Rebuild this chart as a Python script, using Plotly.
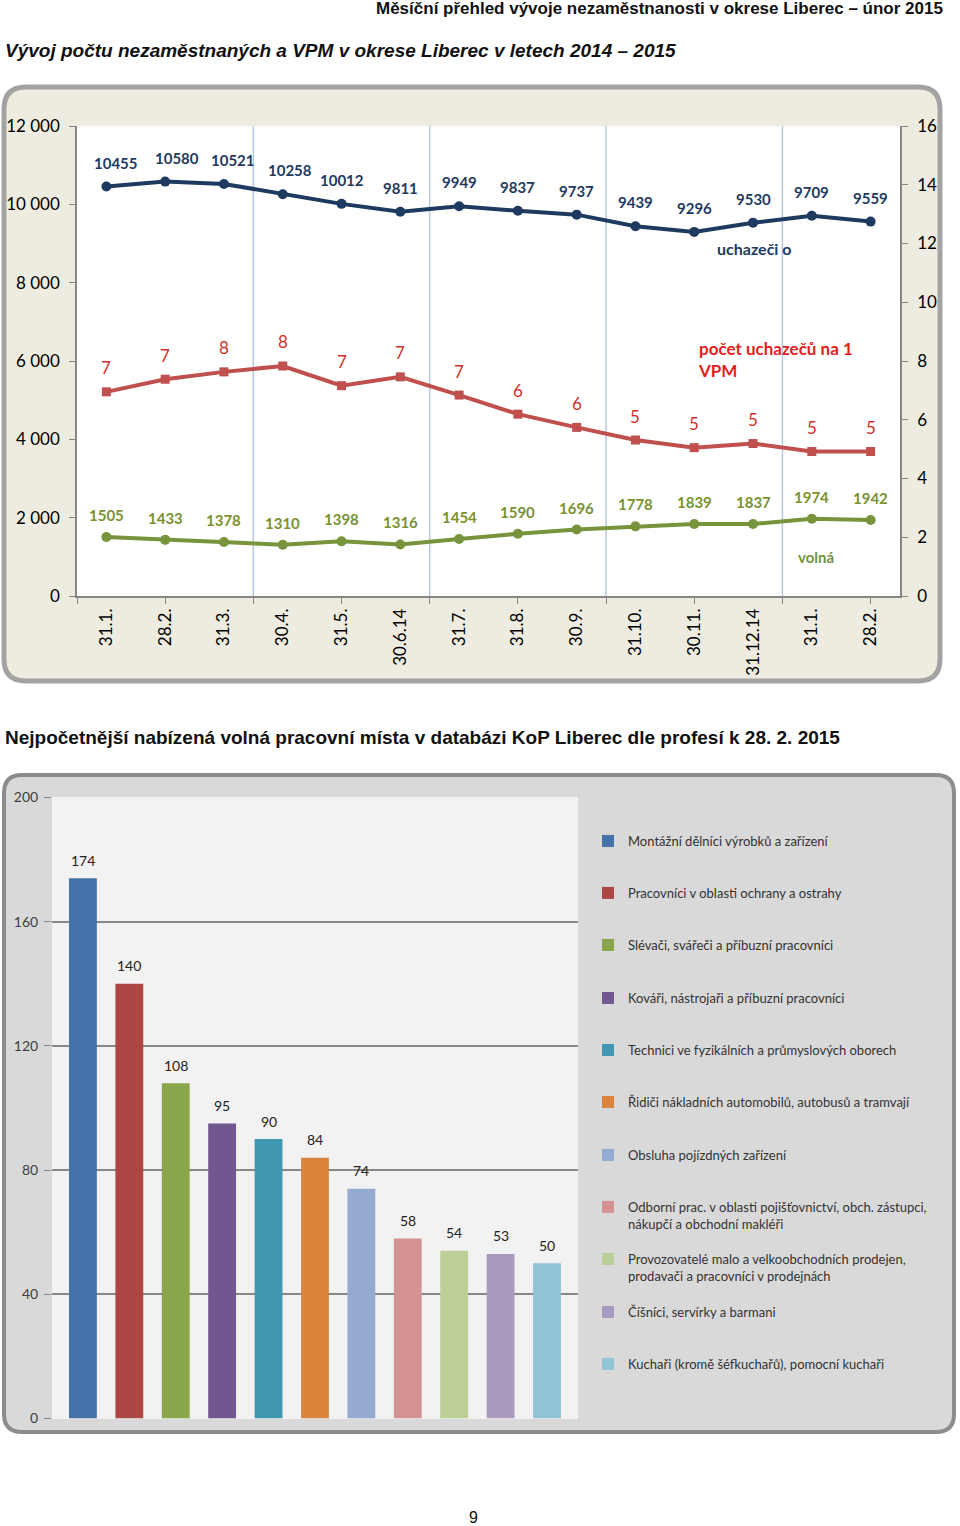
import plotly.graph_objects as go

W, H = 960, 1526

# ---------------- data: top chart ----------------
months = ["31.1.", "28.2.", "31.3.", "30.4.", "31.5.", "30.6.14", "31.7.",
          "31.8.", "30.9.", "31.10.", "30.11.", "31.12.14", "31.1.", "28.2."]
uchazeci = [10455, 10580, 10521, 10258, 10012, 9811, 9949, 9837, 9737, 9439, 9296, 9530, 9709, 9559]
volna = [1505, 1433, 1378, 1310, 1398, 1316, 1454, 1590, 1696, 1778, 1839, 1837, 1974, 1942]
pocet_na_vpm = [6.95, 7.38, 7.63, 7.83, 7.16, 7.46, 6.84, 6.19, 5.74, 5.31, 5.05, 5.19, 4.92, 4.92]
pocet_labels = ["7", "7", "8", "8", "7", "7", "7", "6", "6", "5", "5", "5", "5", "5"]
quarter_bounds = [2.5, 5.5, 8.5, 11.5]
left_ticks = [0, 2000, 4000, 6000, 8000, 10000, 12000]
right_ticks = [0, 2, 4, 6, 8, 10, 12, 14, 16]

# ---------------- data: bottom chart ----------------
professions = [
    "Montážní dělníci výrobků a zařízení",
    "Pracovníci v oblasti ochrany a ostrahy",
    "Slévači, svářeči a příbuzní pracovníci",
    "Kováři, nástrojaři a příbuzní pracovníci",
    "Technici ve fyzikálních a průmyslových oborech",
    "Řidiči nákladních automobilů, autobusů a tramvají",
    "Obsluha pojízdných zařízení",
    "Odborní prac. v oblasti pojišťovnictví, obch. zástupci,<br>nákupčí a obchodní makléři",
    "Provozovatelé malo a velkoobchodních prodejen,<br>prodavači a pracovníci v prodejnách",
    "Číšníci, servírky a barmani",
    "Kuchaři (kromě šéfkuchařů), pomocní kuchaři",
]
vpm_counts = [174, 140, 108, 95, 90, 84, 74, 58, 54, 53, 50]
bar_colors = ["#4371A8", "#AC4744", "#8AA54B", "#71578F", "#4298B0", "#DD843C",
              "#94AAD1", "#D49293", "#BBCF97", "#A99BBF", "#93C4D6"]

# layout helpers (pixel positions of legend rows and label nudges)
legend_centers = [841, 893, 945, 998, 1050, 1102, 1155, 1207, 1259, 1312, 1364]
blue_label_nudge = [10, 12, 9, 7, 0, 0, 0, 0, 0, 0, 0, 0, 0, 0]


def px(x):
    return x / W


def py(y):
    return 1 - y / H


def rrect(x0, y0, x1, y1, r):
    pts = []
    pts.append(f"M {px(x0 + r)} {py(y0)}")
    pts.append(f"L {px(x1 - r)} {py(y0)}")
    pts.append(f"Q {px(x1)} {py(y0)} {px(x1)} {py(y0 + r)}")
    pts.append(f"L {px(x1)} {py(y1 - r)}")
    pts.append(f"Q {px(x1)} {py(y1)} {px(x1 - r)} {py(y1)}")
    pts.append(f"L {px(x0 + r)} {py(y1)}")
    pts.append(f"Q {px(x0)} {py(y1)} {px(x0)} {py(y1 - r)}")
    pts.append(f"L {px(x0)} {py(y0 + r)}")
    pts.append(f"Q {px(x0)} {py(y0)} {px(x0 + r)} {py(y0)}")
    pts.append("Z")
    return " ".join(pts)


idx = list(range(len(months)))
NAVY = "#1F3A60"
RED = "#C0504D"
GREEN = "#77933C"
FONT = "Lato, 'Open Sans', sans-serif"
NARROW = "'Liberation Sans Narrow', 'Arial Narrow', 'Liberation Sans', Arial, sans-serif"
ARIAL = "'Liberation Sans', Arial, sans-serif"

fig = go.Figure()

# top chart traces
fig.add_trace(go.Scatter(x=idx, y=uchazeci, mode="lines+markers", name="uchazeči o",
                         line=dict(color=NAVY, width=4), marker=dict(size=10, color=NAVY),
                         xaxis="x", yaxis="y", showlegend=False))
fig.add_trace(go.Scatter(x=idx, y=volna, mode="lines+markers", name="volná",
                         line=dict(color=GREEN, width=4), marker=dict(size=10, color=GREEN),
                         xaxis="x", yaxis="y", showlegend=False))
fig.add_trace(go.Scatter(x=idx, y=pocet_na_vpm, mode="lines+markers", name="počet uchazečů na 1 VPM",
                         line=dict(color=RED, width=4),
                         marker=dict(size=9, color=RED, symbol="square"),
                         xaxis="x", yaxis="y2", showlegend=False))

annotations = []
for i in idx:
    annotations.append(dict(x=i, y=uchazeci[i], xref="x", yref="y", yshift=24,
                            xshift=blue_label_nudge[i],
                            text=f"<b>{uchazeci[i]}</b>", showarrow=False,
                            font=dict(family=FONT, size=15, color=NAVY)))
    annotations.append(dict(x=i, y=volna[i], xref="x", yref="y", yshift=22,
                            text=f"<b>{volna[i]}</b>", showarrow=False,
                            font=dict(family=FONT, size=15, color="#7A9230")))
    annotations.append(dict(x=i, y=pocet_na_vpm[i], xref="x", yref="y2", yshift=24,
                            text=pocet_labels[i], showarrow=False,
                            font=dict(family=FONT, size=17, color="#D02F2B")))

# bottom chart traces
for i, (name, val, col) in enumerate(zip(professions, vpm_counts, bar_colors)):
    lg = "legend" if i == 0 else f"legend{i + 1}"
    fig.add_trace(go.Bar(x=[i], y=[val], name=name, marker=dict(color=col, line=dict(width=0)),
                         width=0.6, xaxis="x2", yaxis="y3", legend=lg, showlegend=True))
    annotations.append(dict(x=i, y=val, xref="x2", yref="y3", yshift=18, text=str(val),
                            showarrow=False, font=dict(family=FONT, size=14, color="#222222")))

# free texts
annotations += [
    dict(x=px(945), y=py(9), xref="paper", yref="paper", xanchor="right", yanchor="middle",
         text="<b>Měsíční přehled vývoje nezaměstnanosti v okrese Liberec – únor 2015</b>",
         showarrow=False, font=dict(family=NARROW, size=17, color="#111111")),
    dict(x=px(3), y=py(51), xref="paper", yref="paper", xanchor="left", yanchor="middle",
         text="<b><i>Vývoj počtu nezaměstnaných a VPM v okrese Liberec v letech 2014 – 2015</i></b>",
         showarrow=False, font=dict(family=NARROW, size=19, color="#111111")),
    dict(x=px(3), y=py(738), xref="paper", yref="paper", xanchor="left", yanchor="middle",
         text="<b>Nejpočetnější nabízená volná pracovní místa v databázi KoP Liberec dle profesí k 28. 2. 2015</b>",
         showarrow=False, font=dict(family=ARIAL, size=19, color="#111111")),
    dict(x=px(473), y=py(1517), xref="paper", yref="paper", xanchor="center", yanchor="middle",
         text="9", showarrow=False, font=dict(family=ARIAL, size=16, color="#111111")),
    dict(x=px(754), y=py(249), xref="paper", yref="paper", xanchor="center", yanchor="middle",
         text="<b>uchazeči o</b>", showarrow=False, font=dict(family=FONT, size=16, color=NAVY)),
    dict(x=px(696), y=py(336), xref="paper", yref="paper", xanchor="left", yanchor="top",
         align="left", text="<b>počet uchazečů na 1<br>VPM</b>", showarrow=False,
         font=dict(family=FONT, size=17, color="#E0221E")),
    dict(x=px(816), y=py(557), xref="paper", yref="paper", xanchor="center", yanchor="middle",
         text="<b>volná</b>", showarrow=False, font=dict(family=FONT, size=15, color=GREEN)),
]

shapes = [
    dict(type="path", path=rrect(4, 87, 940, 681, 22), xref="paper", yref="paper",
         fillcolor="#EEECE1", line=dict(color="#A3A3A3", width=5), layer="below"),
    dict(type="rect", x0=px(77), x1=px(900), y0=py(596), y1=py(126), xref="paper", yref="paper",
         fillcolor="#FFFFFF", line=dict(width=0), layer="below"),
    dict(type="path", path=rrect(4, 775, 954, 1432, 18), xref="paper", yref="paper",
         fillcolor="#D9D9D9", line=dict(color="#8C8C8C", width=4), layer="below"),
    dict(type="rect", x0=px(52), x1=px(578), y0=py(1419), y1=py(797), xref="paper", yref="paper",
         fillcolor="#F2F2F2", line=dict(width=0), layer="below"),
]
for b in quarter_bounds:
    shapes.append(dict(type="line", x0=b, x1=b, xref="x", y0=0, y1=1, yref="y domain",
                       line=dict(color="#B8C8E0", width=1.5), layer="below"))

layout = dict(
    width=W, height=H, margin=dict(l=0, r=0, t=0, b=0, pad=0, autoexpand=False),
    paper_bgcolor="#FFFFFF", plot_bgcolor="rgba(0,0,0,0)",
    separators=", ",
    barmode="overlay",
    xaxis=dict(domain=[px(77), px(900)], range=[-0.5, 13.5], anchor="y", automargin=False,
               tickmode="array", tickvals=idx, ticktext=months, tickangle=-90,
               ticks="", showgrid=False, zeroline=False, showline=True,
               linecolor="#868686", linewidth=1.5, ticklabelstandoff=4,
               tickfont=dict(family=FONT, size=17, color="#000000"),
               minor=dict(tickmode="linear", tick0=1, dtick=1.5, ticks="outside", ticklen=6,
                          tickcolor="#868686", showgrid=False)),
    yaxis=dict(domain=[py(596), py(126)], range=[0, 12000], anchor="x", automargin=False,
               tickmode="array", tickvals=left_ticks, tickformat=",d",
               ticks="outside", ticklen=6, tickcolor="#868686", ticklabelstandoff=6,
               showgrid=False, zeroline=False, showline=True, linecolor="#868686", linewidth=1.5,
               tickfont=dict(family=FONT, size=17, color="#000000")),
    yaxis2=dict(overlaying="y", side="right", range=[0, 16], anchor="x", automargin=False,
                tickmode="array", tickvals=right_ticks, ticklabelstandoff=6,
                ticks="outside", ticklen=6, tickcolor="#868686",
                showgrid=False, zeroline=False, showline=True, linecolor="#868686", linewidth=1.5,
                tickfont=dict(family=FONT, size=17, color="#000000")),
    xaxis2=dict(domain=[px(52), px(578)], range=[-0.666, 10.668], anchor="y3", automargin=False,
                showticklabels=False, showgrid=False, zeroline=False, showline=False, ticks=""),
    yaxis3=dict(domain=[py(1418.5), py(797.5)], range=[0, 200], anchor="x2", automargin=False,
                tickmode="linear", tick0=0, dtick=40, ticks="outside", ticklen=7,
                tickcolor="#868686", showgrid=True, gridcolor="#868686", gridwidth=1.5,
                zeroline=False, showline=False, ticklabelstandoff=3,
                tickfont=dict(family=FONT, size=14, color="#404040")),
    annotations=annotations,
    shapes=shapes,
)

for i, c in enumerate(legend_centers):
    key = "legend" if i == 0 else f"legend{i + 1}"
    layout[key] = dict(x=px(588), y=py(c - 15), xanchor="left", yanchor="top",
                       bgcolor="rgba(0,0,0,0)", borderwidth=0, valign="top",
                       font=dict(family=FONT, size=13, color="#333333"),
                       itemclick=False, itemdoubleclick=False)

fig.update_layout(**layout)
fig.write_html("out.html")
